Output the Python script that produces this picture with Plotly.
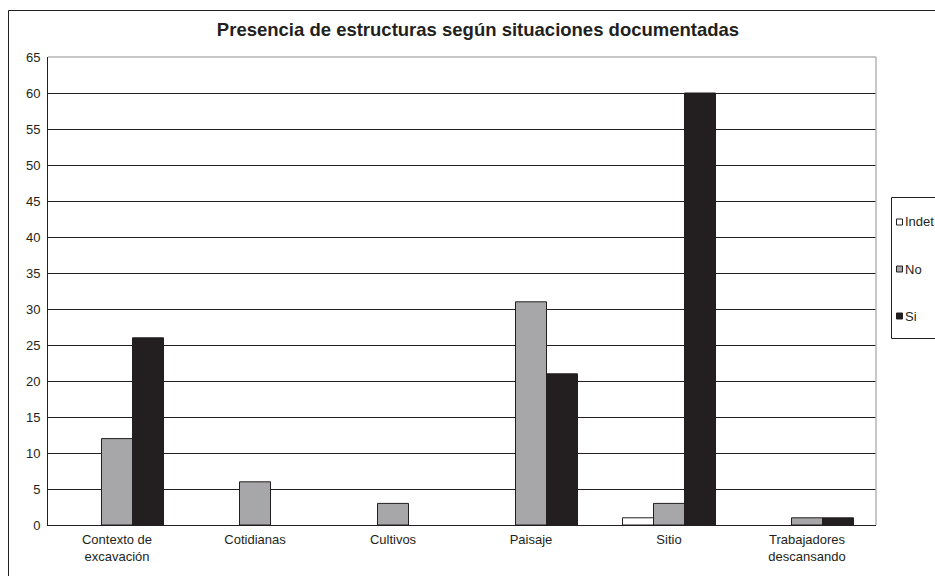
import plotly.graph_objects as go

categories = ["Contexto de<br>excavación", "Cotidianas", "Cultivos", "Paisaje", "Sitio", "Trabajadores<br>descansando"]
series_names = ["Indet", "No", "Si"]
indet = [None, None, None, None, 1, None]
no = [12, 6, 3, 31, 3, 1]
si = [26, None, None, 21, 60, 1]
y_ticks = list(range(0, 66, 5))

colors = ["#ffffff", "#a7a7a9", "#231f20"]
INK = "#231f20"

W, H = 935, 576
plot_left, plot_right, plot_top, plot_bottom = 48, 876, 57, 525  # pixels
L, R, T, B = plot_left, W - plot_right, plot_top, H - plot_bottom
pw, ph = W - L - R, H - T - B

def px_x(x):
    return (x - L) / pw

def px_y(y):
    return (H - B - y) / ph

fig = go.Figure()
for name, vals, col in zip(series_names, [indet, no, si], colors):
    fig.add_trace(go.Bar(
        x=categories, y=vals, name=name,
        marker=dict(color=col, line=dict(color=INK, width=1)),
    ))

fig.update_layout(
    width=W, height=H,
    margin=dict(l=L, r=R, t=T, b=B),
    paper_bgcolor="white", plot_bgcolor="white",
    barmode="group", bargap=0.326, bargroupgap=0,
    font=dict(family="Liberation Sans, Arial, sans-serif", size=13, color=INK),
    title=dict(text="<b>Presencia de estructuras según situaciones documentadas</b>",
               x=478 / W, xanchor="center", y=1 - 30 / H, yanchor="middle",
               font=dict(size=18.5, color=INK)),
    xaxis=dict(showgrid=False, showline=True, linecolor=INK, linewidth=1,
               ticks="", tickfont=dict(size=13), mirror=False, ticklabelstandoff=2),
    yaxis=dict(range=[0, 65], tickvals=y_ticks, showgrid=True, gridcolor=INK,
               gridwidth=1, showline=True, linecolor=INK, linewidth=1,
               ticks="", tickfont=dict(size=13), zeroline=False, ticklabelstandoff=4),
    showlegend=False,
)

# light gray plot-area border on top and right
fig.add_shape(type="line", xref="paper", yref="paper", x0=0, x1=1, y0=1, y1=1,
              line=dict(color="#b5b5b5", width=1.5))
fig.add_shape(type="line", xref="paper", yref="paper", x0=1, x1=1, y0=0, y1=1,
              line=dict(color="#b5b5b5", width=1.5))
# outer chart border
fig.add_shape(type="rect", xref="paper", yref="paper",
              x0=px_x(8.5), x1=px_x(960), y0=px_y(10.5), y1=px_y(600),
              line=dict(color=INK, width=1), layer="below")

# compact legend (Excel style), built from the series names/colours
fig.add_shape(type="rect", xref="paper", yref="paper",
              x0=px_x(891.5), x1=px_x(960), y0=px_y(197.5), y1=px_y(338.5),
              line=dict(color=INK, width=1), fillcolor="white")
item_y = [222, 269, 316]
for name, col, yy in zip(series_names, colors, item_y):
    fig.add_shape(type="rect", xref="paper", yref="paper",
                  x0=px_x(896.5), x1=px_x(902.5), y0=px_y(yy - 3), y1=px_y(yy + 3),
                  line=dict(color=INK, width=1), fillcolor=col)
    fig.add_annotation(text=name, xref="paper", yref="paper",
                       x=px_x(903), y=px_y(yy), xanchor="left", yanchor="middle",
                       showarrow=False, font=dict(size=13, color=INK))

fig.write_html("out.html", config={"displayModeBar": False},
               post_script="document.body.style.margin='0px';document.body.style.overflow='hidden';")
